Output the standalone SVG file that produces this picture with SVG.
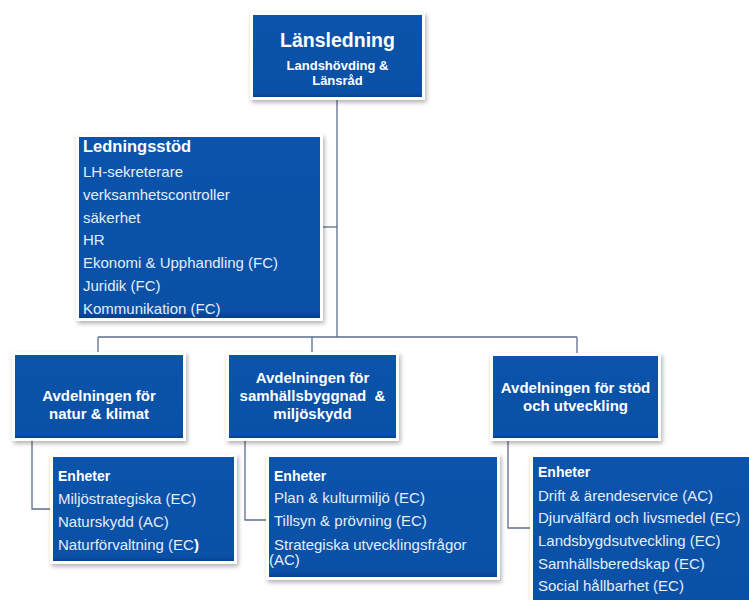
<svg xmlns="http://www.w3.org/2000/svg" width="749" height="600" viewBox="0 0 749 600">
  <defs>
    <linearGradient id="boxFill" x1="0" y1="0" x2="0" y2="1">
      <stop offset="0" stop-color="#0b53ab"/>
      <stop offset="0.96" stop-color="#0a50a6"/>
      <stop offset="1" stop-color="#083f88"/>
    </linearGradient>
    <filter id="shadow" x="-10%" y="-10%" width="125%" height="130%">
      <feDropShadow dx="1.5" dy="2.5" stdDeviation="2" flood-color="#000" flood-opacity="0.3"/>
    </filter>
    <style>
      .frame { fill: #ffffff; filter: url(#shadow); }
      .box { fill: url(#boxFill); }
      .title { font-family: "Liberation Sans", Arial, sans-serif; font-weight: bold; fill: #ffffff; }
      .item { font-family: "Liberation Sans", Arial, sans-serif; font-size: 15px; fill: #e4edf9; }
      .head { font-family: "Liberation Sans", Arial, sans-serif; font-size: 14px; font-weight: bold; fill: #ffffff; }
      .conn { fill: none; stroke: #5d6c8e; stroke-width: 1.3; }
    </style>
  </defs>

  <rect width="749" height="600" fill="#ffffff"/>

  <!-- connectors -->
  <g id="connectors">
    <line class="conn" x1="337" y1="97" x2="337" y2="337" stroke-width="2" stroke="#4d5e86"/>
    <line class="conn" x1="320" y1="227" x2="337" y2="227"/>
    <line class="conn" x1="98" y1="337" x2="577" y2="337"/>
    <line class="conn" x1="98" y1="337" x2="98" y2="355"/>
    <line class="conn" x1="312" y1="337" x2="312" y2="355"/>
    <line class="conn" x1="577" y1="337" x2="577" y2="356"/>
    <polyline class="conn" points="32,438 32,509 53,509"/>
    <polyline class="conn" points="245,438 245,520 269,520"/>
    <polyline class="conn" points="508,438 508,528 533,528"/>
  </g>

  <!-- county leadership -->
  <g id="lansledning">
    <rect class="frame" x="250" y="12" width="175" height="88"/>
    <rect class="box" x="253" y="15" width="169" height="82"/>
    <text class="title" x="337.5" y="47" font-size="19.5" text-anchor="middle">Länsledning</text>
    <text class="title" x="337.5" y="70" font-size="13" text-anchor="middle">Landshövding &amp;</text>
    <text class="title" x="337.5" y="84.5" font-size="13" text-anchor="middle">Länsråd</text>
  </g>

  <!-- management support -->
  <g id="ledningsstod">
    <rect class="frame" x="76" y="134" width="247" height="187"/>
    <rect class="box" x="79" y="137" width="241" height="181"/>
    <text class="title" x="83" y="152" font-size="16.5">Ledningsstöd</text>
    <text class="item" x="83" y="177">LH-sekreterare</text>
    <text class="item" x="83" y="199.5">verksamhetscontroller</text>
    <text class="item" x="83" y="222.5">säkerhet</text>
    <text class="item" x="83" y="245">HR</text>
    <text class="item" x="83" y="268">Ekonomi &amp; Upphandling (FC)</text>
    <text class="item" x="83" y="291">Juridik (FC)</text>
    <text class="item" x="83" y="313.5">Kommunikation (FC)</text>
  </g>

  <!-- departments -->
  <g id="avd-natur">
    <rect class="frame" x="12" y="352" width="174" height="89"/>
    <rect class="box" x="15" y="355" width="168" height="83"/>
    <text class="title" x="99" y="401" font-size="15" text-anchor="middle">Avdelningen för</text>
    <text class="title" x="99" y="419" font-size="15" text-anchor="middle">natur &amp; klimat</text>
  </g>

  <g id="avd-samhallsbyggnad">
    <rect class="frame" x="226" y="352" width="173" height="89"/>
    <rect class="box" x="229" y="355" width="167" height="83"/>
    <text class="title" x="312.5" y="383" font-size="15" text-anchor="middle">Avdelningen för</text>
    <text class="title" x="312.5" y="401" font-size="15" text-anchor="middle" xml:space="preserve">samhällsbyggnad  &amp;</text>
    <text class="title" x="312.5" y="419" font-size="15" text-anchor="middle">miljöskydd</text>
  </g>

  <g id="avd-stod">
    <rect class="frame" x="490" y="353" width="171" height="88"/>
    <rect class="box" x="493" y="356" width="165" height="82"/>
    <text class="title" x="575.5" y="393" font-size="15" text-anchor="middle">Avdelningen för stöd</text>
    <text class="title" x="575.5" y="411" font-size="15" text-anchor="middle">och utveckling</text>
  </g>

  <!-- units -->
  <g id="enheter-natur">
    <rect class="frame" x="50" y="454" width="187" height="110"/>
    <rect class="box" x="53" y="457" width="181" height="104"/>
    <text class="head" x="58" y="481">Enheter</text>
    <text class="item" x="58" y="504">Miljöstrategiska (EC)</text>
    <text class="item" x="58" y="527">Naturskydd (AC)</text>
    <text class="item" x="58" y="550">Naturförvaltning (EC<tspan font-weight="bold" fill="#ffffff">)</tspan></text>
  </g>

  <g id="enheter-samhallsbyggnad">
    <rect class="frame" x="266" y="454" width="234" height="126"/>
    <rect class="box" x="269" y="457" width="228" height="120"/>
    <text class="head" x="274" y="481">Enheter</text>
    <text class="item" x="274" y="503">Plan &amp; kulturmiljö (EC)</text>
    <text class="item" x="274" y="526">Tillsyn &amp; prövning (EC)</text>
    <text class="item" x="274" y="550">Strategiska utvecklingsfrågor</text>
    <text class="item" x="269" y="565">(AC)</text>
  </g>

  <g id="enheter-stod">
    <rect class="frame" x="530" y="454" width="225" height="152"/>
    <rect class="box" x="533" y="457" width="222" height="150"/>
    <text class="head" x="538" y="477">Enheter</text>
    <text class="item" x="538" y="500.5">Drift &amp; ärendeservice (AC)</text>
    <text class="item" x="538" y="523">Djurvälfärd och livsmedel (EC)</text>
    <text class="item" x="538" y="546">Landsbygdsutveckling (EC)</text>
    <text class="item" x="538" y="568.5">Samhällsberedskap (EC)</text>
    <text class="item" x="538" y="591">Social hållbarhet (EC)</text>
  </g>
</svg>
